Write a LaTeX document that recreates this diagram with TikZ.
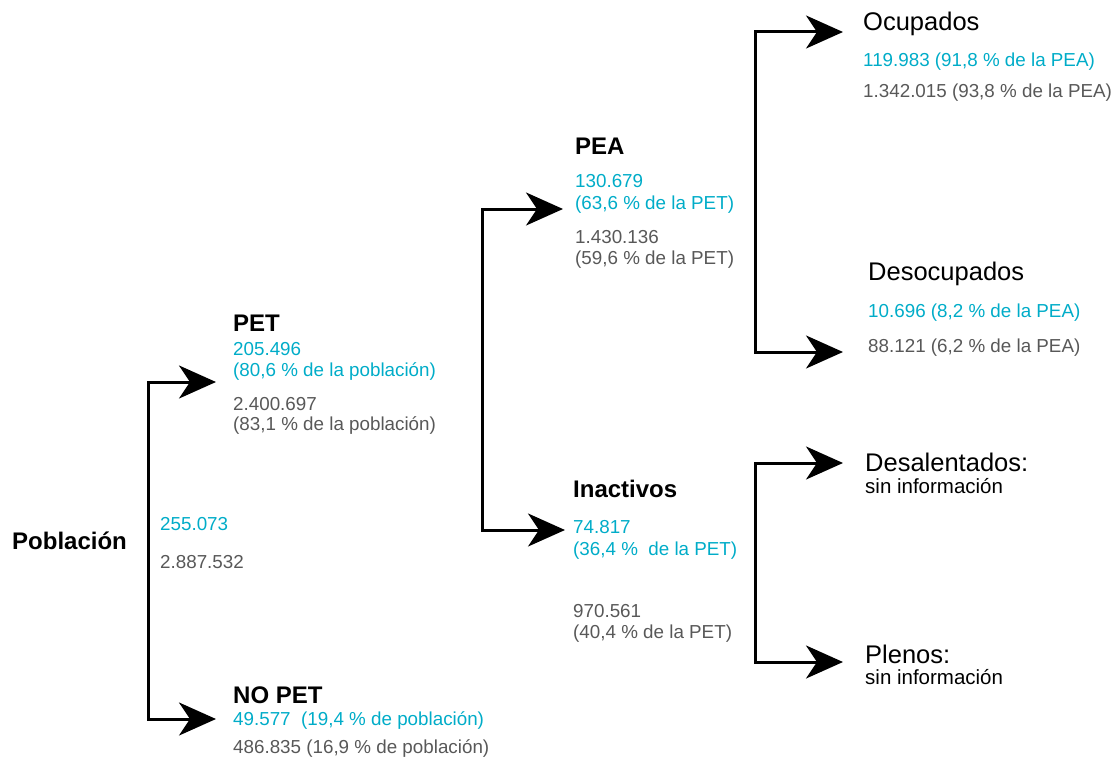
\documentclass[tikz,border=0pt]{standalone}
\usepackage{fontspec}
\setmainfont{Liberation Sans}
\usepackage{xcolor}
\usetikzlibrary{arrows.meta}

\definecolor{cyandat}{RGB}{0,172,200}
\definecolor{graydat}{RGB}{88,88,88}

\tikzset{
  title/.style={font=\fontsize{24}{28}\selectfont\bfseries, anchor=base west, inner sep=0pt},
  head/.style={font=\fontsize{25.5}{30}\selectfont, anchor=base west, inner sep=0pt},
  cdat/.style={font=\fontsize{18.8}{22}\selectfont, text=cyandat, anchor=base west, inner sep=0pt},
  gdat/.style={font=\fontsize{18.8}{22}\selectfont, text=graydat, anchor=base west, inner sep=0pt},
  note/.style={font=\fontsize{20.5}{24}\selectfont, anchor=base west, inner sep=0pt},
  conn/.style={<->, line width=3pt, line join=miter}
}

\begin{document}
\begin{tikzpicture}[x=1pt, y=-1pt, >={Stealth[length=37pt,width=33pt,inset=11pt]}]

\useasboundingbox (0,0) rectangle (1113,757);

% Poblacion
\path
(12,549) node[title] (pob) {Población}
(160,530) node[cdat] (pobc) {255.073}
(160,568) node[gdat] (pobg) {2.887.532};

% PET
\path
(233,331) node[title] (pet) {PET}
(233,355) node[cdat] (petc1) {205.496}
(233,376) node[cdat] (petc2) {(80,6 \% de la población)}
(233,410) node[gdat] (petg1) {2.400.697}
(233,430) node[gdat] (petg2) {(83,1 \% de la población)};

% NO PET
\path
(233,703) node[title] (nopet) {NO PET}
(233,725) node[cdat] (nopetc) {49.577\ \ (19,4 \% de población)}
(233,753) node[gdat] (nopetg) {486.835 (16,9 \% de población)};

% PEA
\path
(575,154) node[title] (pea) {PEA}
(575,187) node[cdat] (peac1) {130.679}
(575,209) node[cdat] (peac2) {(63,6 \% de la PET)}
(575,243) node[gdat] (peag1) {1.430.136}
(575,264) node[gdat] (peag2) {(59,6 \% de la PET)};

% Inactivos
\path
(573,497) node[title] (inac) {Inactivos}
(573,533) node[cdat] (inacc1) {74.817}
(573,555) node[cdat] (inacc2) {(36,4 \%\ \ de la PET)}
(573,617) node[gdat] (inacg1) {970.561}
(573,638) node[gdat] (inacg2) {(40,4 \% de la PET)};

% Ocupados
\path
(863,31) node[head] (ocup) {Ocupados}
(863,67) node[cdat] (ocupc) {119.983 (91,8 \% de la PEA)}
(863,98) node[gdat] (ocupg) {1.342.015 (93,8 \% de la PEA)};

% Desocupados
\path
(868,280) node[head] (desoc) {Desocupados}
(868,317) node[cdat] (desocc) {10.696 (8,2 \% de la PEA)}
(868,352) node[gdat] (desocg) {88.121 (6,2 \% de la PEA)};

% Desalentados y plenos
\path
(865,471) node[head] (desal) {Desalentados:}
(865,493) node[note] (desaln) {sin información}
(865,663) node[head] (plen) {Plenos:}
(865,684) node[note] (plenn) {sin información};

% Corners and arrow ends
\coordinate (pobtop) at (148,382);
\coordinate (pobbot) at (148,719);
\coordinate (petin) at (216,382);
\coordinate (nopetin) at (216,719);

\coordinate (pettop) at (482,209);
\coordinate (petbot) at (482,530);
\coordinate (peain) at (563,209);
\coordinate (inacin) at (565,530);

\coordinate (peatop) at (755,32);
\coordinate (peabot) at (755,352);
\coordinate (ocupin) at (843,32);
\coordinate (desocin) at (843,352);

\coordinate (inactop) at (755,463);
\coordinate (inacbot) at (755,662);
\coordinate (desalin) at (843,463);
\coordinate (plenin) at (843,662);

% Brackets
\draw[conn] (petin) -- (pobtop) -- (pobbot) -- (nopetin);
\draw[conn] (peain) -- (pettop) -- (petbot) -- (inacin);
\draw[conn] (ocupin) -- (peatop) -- (peabot) -- (desocin);
\draw[conn] (desalin) -- (inactop) -- (inacbot) -- (plenin);

\end{tikzpicture}
\end{document}
